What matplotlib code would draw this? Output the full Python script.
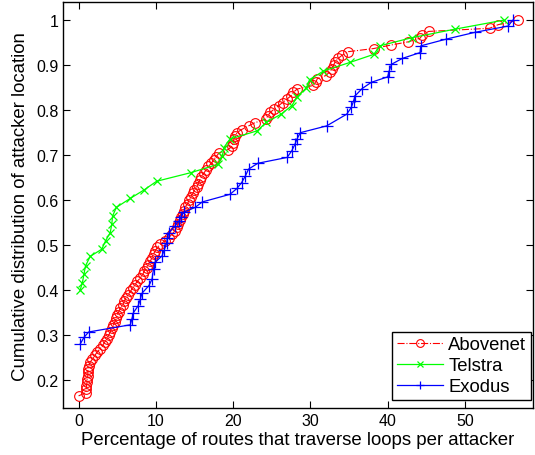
import matplotlib
matplotlib.use("Agg")
import matplotlib.pyplot as plt
from matplotlib.ticker import FuncFormatter

plt.rcParams['font.family'] = ['Liberation Sans', 'DejaVu Sans']

# Abovenet (red circles) - CDF
abovenet_x = [0.0, 0.9, 1.0, 1.0, 1.1, 1.1, 1.2, 1.2, 1.2, 1.3, 1.5, 1.8, 2.1, 2.4,
              2.8, 3.1, 3.4, 3.7, 3.9, 4.1, 4.3, 4.5, 4.7, 4.9, 5.0, 5.2, 5.4, 5.7,
              5.9, 6.1, 6.4, 6.7, 7.0, 7.3, 7.6, 8.0, 8.3, 8.5, 8.8, 9.0, 9.3, 9.5,
              9.7, 9.9, 10.2, 10.6, 11.2, 11.7, 12.1, 12.5, 12.7, 12.9, 13.1, 13.3,
              13.5, 13.6, 13.8, 14.1, 14.3, 14.5, 14.8, 15.0, 15.3, 15.5, 15.7, 15.9,
              16.2, 16.5, 16.8, 17.2, 17.5, 17.8, 18.2, 19.3, 19.9, 20.0, 20.1, 20.3,
              20.5, 21.1, 22.0, 22.8, 24.2, 24.5, 24.8, 25.3, 25.9, 26.4, 27.0, 27.5,
              27.8, 28.3, 30.4, 30.7, 30.9, 32.0, 32.5, 32.8, 33.0, 33.2, 33.6, 34.1,
              34.9, 38.2, 40.5, 42.7, 44.2, 44.5, 45.3, 53.2, 54.3, 56.9]
abovenet_y = [0.165, 0.172, 0.18, 0.187, 0.195, 0.202, 0.21, 0.217, 0.225, 0.232,
              0.24, 0.247, 0.255, 0.262, 0.27, 0.277, 0.285, 0.292, 0.30, 0.307,
              0.315, 0.322, 0.33, 0.337, 0.345, 0.352, 0.36, 0.367, 0.375, 0.382,
              0.39, 0.397, 0.405, 0.412, 0.42, 0.427, 0.435, 0.442, 0.45, 0.457,
              0.465, 0.472, 0.48, 0.487, 0.495, 0.502, 0.51, 0.517, 0.525, 0.532,
              0.54, 0.547, 0.555, 0.562, 0.57, 0.577, 0.585, 0.592, 0.60, 0.607,
              0.615, 0.622, 0.63, 0.637, 0.645, 0.652, 0.66, 0.667, 0.675, 0.682,
              0.69, 0.697, 0.705, 0.712, 0.72, 0.727, 0.735, 0.742, 0.75, 0.757,
              0.765, 0.772, 0.78, 0.787, 0.795, 0.802, 0.81, 0.817, 0.825, 0.832,
              0.84, 0.847, 0.855, 0.862, 0.87, 0.877, 0.885, 0.892, 0.90, 0.907,
              0.915, 0.922, 0.93, 0.937, 0.945, 0.952, 0.96, 0.967, 0.975, 0.982,
              0.99, 1.0]

# Telstra (green x)
telstra_x = [0.2, 0.5, 0.7, 0.9, 1.5, 3.0, 3.5, 4.1, 4.3, 4.4, 4.9, 6.7, 8.5, 10.1,
             14.5, 18.1, 18.6, 18.8, 19.6, 23.1, 24.3, 26.2, 27.6, 28.3, 29.5, 29.9,
             31.7, 35.1, 38.2, 39.0, 43.1, 48.7, 55.0]
telstra_y = [0.40, 0.417, 0.436, 0.454, 0.475, 0.491, 0.51, 0.528, 0.547, 0.565,
             0.584, 0.604, 0.623, 0.642, 0.661, 0.68, 0.698, 0.717, 0.736, 0.754,
             0.773, 0.791, 0.81, 0.83, 0.85, 0.868, 0.887, 0.906, 0.924, 0.943,
             0.961, 0.98, 1.0]

# Exodus (blue +)
exodus_x = [0.2, 0.7, 1.3, 6.7, 6.9, 7.1, 7.7, 8.0, 8.2, 9.1, 9.5, 9.7, 9.9, 10.8,
            11.1, 11.4, 11.5, 11.7, 12.5, 13.0, 13.2, 13.6, 15.1, 16.0, 19.6, 20.5,
            21.1, 21.6, 22.0, 23.2, 27.0, 27.6, 28.0, 28.3, 28.7, 32.1, 34.7, 35.3,
            35.6, 35.8, 36.7, 37.9, 40.0, 40.2, 40.5, 41.9, 44.2, 44.3, 47.6, 51.3,
            55.6, 56.2]
exodus_y = [0.28, 0.295, 0.307, 0.323, 0.336, 0.35, 0.365, 0.38, 0.393, 0.41, 0.424,
            0.447, 0.462, 0.476, 0.49, 0.504, 0.517, 0.528, 0.543, 0.554, 0.562,
            0.573, 0.584, 0.596, 0.613, 0.626, 0.639, 0.654, 0.669, 0.682, 0.695,
            0.71, 0.724, 0.737, 0.75, 0.765, 0.791, 0.806, 0.821, 0.832, 0.848,
            0.862, 0.874, 0.887, 0.902, 0.915, 0.928, 0.943, 0.958, 0.973, 0.987, 1.0]

fig = plt.figure(figsize=(5.35, 4.56), dpi=100)
ax = fig.add_axes([0.118, 0.103, 0.878, 0.890])

ax.plot(abovenet_x, abovenet_y, '-.', color='red', marker='o', markersize=7,
        markerfacecolor='none', markeredgewidth=0.8, linewidth=0.8, label='Abovenet')
ax.plot(telstra_x, telstra_y, '-', color='#00ff00', marker='x', markersize=6,
        markeredgewidth=0.9, linewidth=0.9, label='Telstra')
ax.plot(exodus_x, exodus_y, '-', color='blue', marker='+', markersize=8,
        markeredgewidth=0.9, linewidth=0.9, label='Exodus')

ax.set_xlim(-2, 58.8)
ax.set_ylim(0.138, 1.04)
ax.set_xticks([0, 10, 20, 30, 40, 50])
ax.set_yticks([0.2, 0.3, 0.4, 0.5, 0.6, 0.7, 0.8, 0.9, 1.0])
ax.yaxis.set_major_formatter(FuncFormatter(lambda v, p: '1' if abs(v - 1) < 1e-9 else f'{v:.1f}'))
ax.tick_params(direction='in', top=True, right=True, length=5, labelsize=11.5)
for s in ax.spines.values():
    s.set_linewidth(1.0)

ax.set_xlabel('Percentage of routes that traverse loops per attacker', fontsize=13.4, labelpad=2)
ax.set_ylabel('Cumulative distribution of attacker location', fontsize=13.4, labelpad=5)

leg = ax.legend(loc='lower right', bbox_to_anchor=(0.996, 0.02), borderaxespad=0,
                fontsize=13.3, fancybox=False, framealpha=1, edgecolor='black',
                handlelength=2.5, borderpad=0.25, labelspacing=0.22, handletextpad=0.3,
                markerscale=0.8)
leg.get_frame().set_linewidth(1.0)

fig.savefig('out.png', dpi=100)
